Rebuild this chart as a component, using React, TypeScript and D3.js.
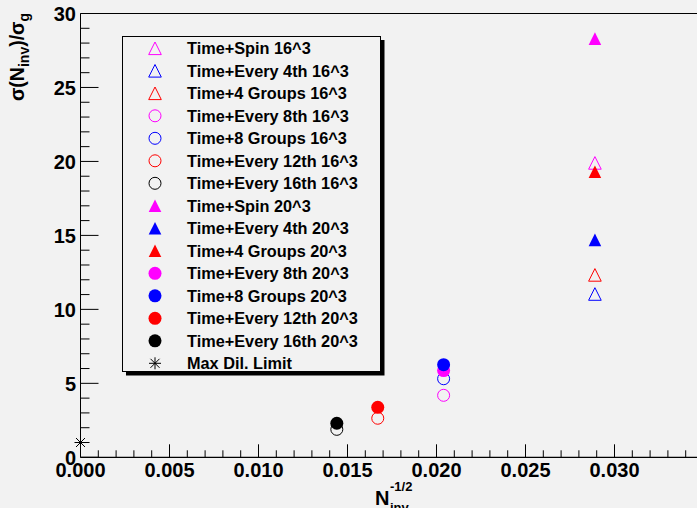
import React from 'react'
import * as d3 from 'd3'

// x = 1/sqrt(N_inv), y = sigma ratio
const labels16 = ['Time+Spin 16^3', 'Time+Every 4th 16^3', 'Time+4 Groups 16^3', 'Time+Every 8th 16^3', 'Time+8 Groups 16^3', 'Time+Every 12th 16^3', 'Time+Every 16th 16^3']
const labels20 = ['Time+Spin 20^3', 'Time+Every 4th 20^3', 'Time+4 Groups 20^3', 'Time+Every 8th 20^3', 'Time+8 Groups 20^3', 'Time+Every 12th 20^3', 'Time+Every 16th 20^3']
const xs = [0.0289, 0.0289, 0.0289, 0.0204, 0.0204, 0.0167, 0.0144]
const y16 = [19.9, 11.04, 12.33, 4.19, 5.31, 2.64, 1.89]
const y20 = [28.3, 14.7, 19.3, 5.86, 6.26, 3.38, 2.3]
const colors = ['#ff00ff', '#0000ff', '#ff0000', '#ff00ff', '#0000ff', '#ff0000', '#000000']
const shapes = ['tri', 'tri', 'tri', 'circ', 'circ', 'circ', 'circ']
const limitLabel = 'Max Dil. Limit'
const limitX = [0]
const limitY = [1.0]
const xTicks = [0, 0.005, 0.01, 0.015, 0.02, 0.025, 0.03]
const yTicks = [0, 5, 10, 15, 20, 25, 30]

const W = 697
const H = 508
const bg = '#f2f2f2'
const font = '"Liberation Sans", Arial, Helvetica, sans-serif'

const x = d3.scaleLinear().domain([0, 0.035]).range([80.5, 703.5])
const y = d3.scaleLinear().domain([0, 30]).range([457.3, 13.5])

const Marker = ({ shape, filled, color, cx, cy }) => {
  if (shape === 'tri') {
    const s = 6.3
    const d = `M${cx - s},${cy + s}L${cx + s},${cy + s}L${cx},${cy - s}Z`
    return filled
      ? <path d={d} fill={color} />
      : <path d={d} fill="none" stroke={color} strokeWidth={1} />
  }
  if (shape === 'star') {
    const s = 6
    const k = s * 0.75
    return (
      <g stroke="#000" strokeWidth={1}>
        <line x1={cx - s} y1={cy} x2={cx + s} y2={cy} />
        <line x1={cx} y1={cy - s} x2={cx} y2={cy + s} />
        <line x1={cx - k} y1={cy - k} x2={cx + k} y2={cy + k} />
        <line x1={cx - k} y1={cy + k} x2={cx + k} y2={cy - k} />
      </g>
    )
  }
  return filled
    ? <circle cx={cx} cy={cy} r={6.5} fill={color} />
    : <circle cx={cx} cy={cy} r={6} fill="none" stroke={color} strokeWidth={1} />
}

export default function App() {
  const xMinor = d3.range(0, 0.0351, 0.001)
  const yMinor = d3.range(0, 30.01, 1)
  const legend = [
    ...labels16.map((l, i) => ({ label: l, shape: shapes[i], color: colors[i], filled: false })),
    ...labels20.map((l, i) => ({ label: l, shape: shapes[i], color: colors[i], filled: true })),
    { label: limitLabel, shape: 'star', color: '#000', filled: false },
  ]
  const x0 = x(0)
  const yb = y(0)
  return (
    <svg width={W} height={H} style={{ position: 'fixed', left: 0, top: 0, background: bg }} fontFamily={font}>
      <rect width={W} height={H} fill={bg} />
      {/* frame */}
      <line x1={x0} y1={y(30)} x2={W} y2={y(30)} stroke="#000" strokeWidth={1.2} />
      <line x1={x0} y1={y(30)} x2={x0} y2={yb} stroke="#000" strokeWidth={1} />
      <line x1={x0} y1={yb} x2={W} y2={yb} stroke="#000" strokeWidth={1.3} />
      {/* x ticks */}
      {xMinor.map((t, i) => (
        <line key={'xm' + i} x1={x(t)} x2={x(t)} y1={yb} y2={yb - (i % 5 === 0 ? 13 : 7)} stroke="#000" strokeWidth={1} />
      ))}
      {xTicks.map(t => (
        <text key={'xl' + t} x={x(t)} y={477} textAnchor="middle" fontSize={20} fontWeight="bold">{d3.format('.3f')(t)}</text>
      ))}
      {/* y ticks */}
      {yMinor.map((t, i) => (
        <line key={'ym' + i} x1={x0} x2={x0 + (i % 5 === 0 ? 18 : 9)} y1={y(t)} y2={y(t)} stroke="#000" strokeWidth={1} />
      ))}
      {yTicks.map(t => (
        <text key={'yl' + t} x={76} y={y(t) + 7.5} textAnchor="end" fontSize={20} fontWeight="bold">{t}</text>
      ))}
      {/* axis titles */}
      <text transform="translate(24,13) rotate(-90)" textAnchor="end" fontSize={19.5} fontWeight="bold">
        σ(N<tspan fontSize={14} dy={5}>inv</tspan><tspan dy={-5}>)/σ</tspan><tspan fontSize={14} dy={5}>g</tspan>
      </text>
      <text x={375} y={505} fontSize={20} fontWeight="bold">N</text>
      <text x={390} y={491} fontSize={13} fontWeight="bold">-1/2</text>
      <text x={390} y={512} fontSize={13} fontWeight="bold">inv</text>
      {/* data */}
      {xs.map((v, i) => (
        <Marker key={'a' + i} shape={shapes[i]} filled={false} color={colors[i]} cx={x(v)} cy={y(y16[i])} />
      ))}
      {xs.map((v, i) => (
        <Marker key={'b' + i} shape={shapes[i]} filled={true} color={colors[i]} cx={x(v)} cy={y(y20[i])} />
      ))}
      {limitX.map((v, i) => (
        <Marker key={'c' + i} shape="star" filled={false} color="#000" cx={x(v)} cy={y(limitY[i])} />
      ))}
      {/* legend */}
      <rect x={126} y={40} width={258.5} height={335.5} fill="#000" />
      <rect x={122.5} y={36.5} width={258} height={335} fill={bg} stroke="#000" strokeWidth={1} />
      {legend.map((e, i) => {
        const cy = 48.3 + i * 22.5
        return (
          <g key={'lg' + i}>
            <Marker shape={e.shape} filled={e.filled} color={e.color} cx={155} cy={cy} />
            <text x={187} y={cy + 5.8} fontSize={16.3} fontWeight="bold">{e.label}</text>
          </g>
        )
      })}
    </svg>
  )
}
